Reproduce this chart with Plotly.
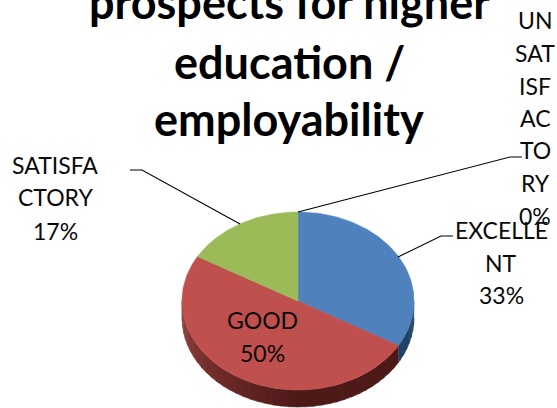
import numpy as np
import plotly.graph_objects as go

categories = ["EXCELLENT", "GOOD", "SATISFACTORY", "UNSATISFACTORY"]
values = [33.33, 50.0, 16.67, 0.0]
colors = ["#4F81BD", "#C0504D", "#9BBB59", "#8064A2"]
side_dark = ["#1B3A5C", "#4E1A18", "#4E6020", "#3A2A50"]
side_light = ["#2A5580", "#93403D", "#70883C", "#5A4678"]
title_lines = ["prospects for higher", "education /", "employability"]
label_good = ["GOOD", "50%"]
label_exc = ["EXCELLE", "NT", "33%"]
label_sat = ["SATISFA", "CTORY", "17%"]
label_uns = ["UN", "SAT", "ISF", "AC", "TO", "RY", "0%"]

W, H = 557, 408
CX, CY, RX, RY, DEPTH = 298, 301, 116, 89, 17
FONT = "Lato"
TXT = "#0a0a0a"


def pt(deg):
    a = np.radians(deg)
    return CX + RX * np.sin(a), CY - RY * np.cos(a)


fig = go.Figure()
fracs = np.array(values) / sum(values) * 360
starts = np.concatenate([[0], np.cumsum(fracs)[:-1]])


def mix(c1, c2, t):
    a = [int(c1[i:i + 2], 16) for i in (1, 3, 5)]
    b = [int(c2[i:i + 2], 16) for i in (1, 3, 5)]
    return "#%02x%02x%02x" % tuple(int(round(p + (q - p) * t)) for p, q in zip(a, b))


# rim of the disc, visible on its front half only
for s, f, d, l in zip(starts, fracs, side_dark, side_light):
    lo, hi = max(s, 90), min(s + f, 270)
    if hi <= lo:
        continue
    edges = np.arange(lo, hi, 4.0)
    for e in edges:
        e2 = min(e + 4.5, hi)
        ang = np.linspace(e, e2, 4)
        xs, ys = pt(ang)
        t = max(0.0, (e - 180) / 90) if d == side_dark[1] else 0.3
        fig.add_trace(go.Scatter(
            x=np.concatenate([xs, xs[::-1]]),
            y=np.concatenate([ys, ys[::-1] + DEPTH]),
            mode="lines", fill="toself", fillcolor=mix(d, l, t),
            line=dict(width=0.5, color=mix(d, l, t)), hoverinfo="skip", showlegend=False))

# top face
for name, s, f, c in zip(categories, starts, fracs, colors):
    if f <= 0:
        continue
    ang = np.linspace(s, s + f, 90)
    xs, ys = pt(ang)
    fig.add_trace(go.Scatter(
        x=np.concatenate([[CX], xs, [CX]]), y=np.concatenate([[CY], ys, [CY]]),
        mode="lines", fill="toself", fillcolor=c, line=dict(width=0.6, color=c),
        name=name, showlegend=False, hoverinfo="name"))

# leader lines
leaders = [
    ([130, 142, 240], [170, 170, 224]),
    ([298, 510, 522], [212, 157, 157]),
    ([398, 441, 453], [257, 236, 236]),
]
for lx, ly in leaders:
    fig.add_trace(go.Scatter(x=lx, y=ly, mode="lines", line=dict(color="#000000", width=1.1),
                             hoverinfo="skip", showlegend=False))


def text(s, x, y, size, bold=False):
    fig.add_annotation(x=x, y=y, text=f"<b>{s}</b>" if bold else s, showarrow=False,
                       xanchor="center", yanchor="middle",
                       font=dict(family=FONT, size=size, color="#000000" if bold else TXT))


for s, y in zip(title_lines, [2, 62, 119]):
    text(s, 289, y, 45, True)
for s, y in zip(label_good, [320, 353]):
    text(s, 262, y, 23)
for s, y in zip(label_exc, [230, 263, 295]):
    text(s, 501, y, 23)
for s, y in zip(label_sat, [165, 197, 231]):
    text(s, 55, y, 23)
for s, y in zip(label_uns, [20, 53, 86, 118, 150, 183, 216]):
    text(s, 535, y, 23)

fig.update_xaxes(range=[0, W], visible=False, fixedrange=True)
fig.update_yaxes(range=[H, 0], visible=False, fixedrange=True)
fig.update_layout(width=W, height=H, margin=dict(l=0, r=0, t=0, b=0),
                  paper_bgcolor="white", plot_bgcolor="white", showlegend=False)
fig.write_html("out.html", config={"displayModeBar": False},
               post_script="document.body.style.margin='0';document.documentElement.style.overflow='hidden';")
